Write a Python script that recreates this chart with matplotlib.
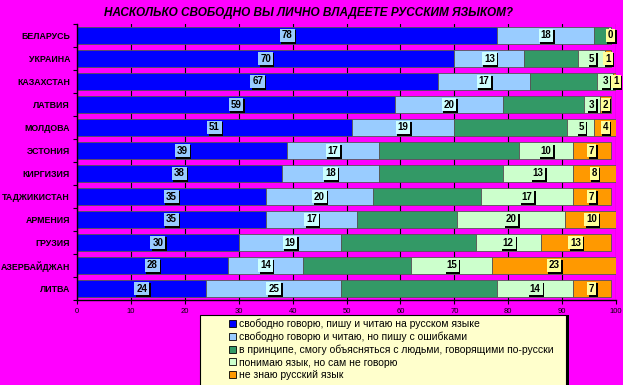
import numpy as np
import matplotlib
matplotlib.use('Agg')
import matplotlib.pyplot as plt
from matplotlib.patches import Rectangle
import matplotlib.patheffects as pe

plt.rcParams['font.family'] = ['Liberation Sans', 'DejaVu Sans']

# data (percent)
countries = ['БЕЛАРУСЬ', 'УКРАИНА', 'КАЗАХСТАН', 'ЛАТВИЯ', 'МОЛДОВА', 'ЭСТОНИЯ',
             'КИРГИЗИЯ', 'ТАДЖИКИСТАН', 'АРМЕНИЯ', 'ГРУЗИЯ', 'АЗЕРБАЙДЖАН', 'ЛИТВА']
fluent = [78, 70, 67, 59, 51, 39, 38, 35, 35, 30, 28, 24]
with_errors = [18, 13, 17, 20, 19, 17, 18, 20, 17, 19, 14, 25]
can_explain = [2.5, 10, 12.5, 15, 21, 26, 23, 20, 18.5, 25, 20, 29]
understand = [0.5, 5, 3, 3, 5, 10, 13, 17, 20, 12, 15, 14]
dont_know = [0, 1, 1, 2, 4, 7, 8, 7, 10, 13, 23, 7]

series = [fluent, with_errors, can_explain, understand, dont_know]
legend_labels = [
    'свободно говорю, пишу и читаю на русском языке',
    'свободно говорю и читаю, но пишу с ошибками',
    'в принципе, смогу объясняться с людьми, говорящими по-русски',
    'понимаю язык, но сам не говорю',
    'не знаю русский язык',
]
colors = ['#0000FF', '#99CCFF', '#339966', '#CCFFCC', '#FF9900']
label_bg = ['#99CCFF', '#CCFFFF', None, '#CCFFCC', '#FFFF99']
title = 'НАСКОЛЬКО СВОБОДНО ВЫ ЛИЧНО ВЛАДЕЕТЕ РУССКИМ ЯЗЫКОМ?'

W, H = 623, 385
fig = plt.figure(figsize=(W / 100, H / 100), dpi=100)
fig.patch.set_facecolor('#FF00FF')
ax = fig.add_axes([77 / W, 1 - 300 / H, (616 - 77) / W, (300 - 24) / H])
ax.set_facecolor('#FF00FF')

y = np.arange(len(countries))
left = np.zeros(len(countries))
for k, vals in enumerate(series):
    vals = np.array(vals, dtype=float)
    ax.barh(y, vals, left=left, height=0.7, color=colors[k],
            edgecolor='#555555', linewidth=0.6, label=legend_labels[k], zorder=2)
    if label_bg[k] is not None:
        for i, v in enumerate(vals):
            if v < 1 and k != 4:
                continue
            t = ax.text(left[i] + v / 2, y[i], f'{v:.0f}', ha='center', va='center',
                        fontsize=7, fontweight='bold', color='black', zorder=4,
                        bbox=dict(boxstyle='square,pad=0.2', facecolor=label_bg[k],
                                  edgecolor='none'))
            t.get_bbox_patch().set_path_effects(
                [pe.SimplePatchShadow(offset=(1, -1), shadow_rgbFace='black', alpha=1),
                 pe.Normal()])
    left += vals

ax.set_xlim(0, 100)
ax.set_ylim(len(countries) - 0.5, -0.5)
ax.set_xticks(np.arange(0, 101, 10))
ax.tick_params(axis='x', labelsize=5.5, length=3, width=0.8, pad=3)
ax.set_yticks(y)
ax.set_yticklabels(countries, fontsize=6.3, fontweight='bold')
ax.tick_params(axis='y', length=0, pad=5)
ax.set_yticks(np.arange(-0.5, len(countries), 1), minor=True)
ax.tick_params(axis='y', which='minor', length=3, width=0.8)
ax.grid(axis='x', color='black', linewidth=0.8, zorder=0)
ax.set_axisbelow(True)
for s in ['top', 'right']:
    ax.spines[s].set_visible(False)
for s in ['left', 'bottom']:
    ax.spines[s].set_linewidth(1.0)

fig.text(308 / W, 1 - 13 / H, title, ha='center', va='center', fontsize=8.5,
         fontweight='bold', fontstyle='italic')

# legend box
fig.add_artist(Rectangle((202 / W, 0), (569 - 202) / W, 1 - 315 / H,
                         transform=fig.transFigure, facecolor='black',
                         edgecolor='none', zorder=1))
fig.add_artist(Rectangle((200 / W, -0.01), (566 - 200) / W, 1 - 315 / H + 0.01,
                         transform=fig.transFigure, facecolor='#FFFFCC',
                         edgecolor='black', linewidth=0.8, zorder=2))
handles, labels = ax.get_legend_handles_labels()
leg = fig.legend(handles, labels, loc='upper left',
                 bbox_to_anchor=(222 / W, 1 - 311 / H), frameon=False,
                 fontsize=7.5, handlelength=0.65, handleheight=0.65,
                 handletextpad=0.3, labelspacing=0.25, borderpad=0.2)
leg.set_zorder(3)
for h in leg.legend_handles:
    h.set_edgecolor('black')
    h.set_linewidth(0.6)

fig.savefig('out.png', dpi=100, facecolor=fig.get_facecolor())
